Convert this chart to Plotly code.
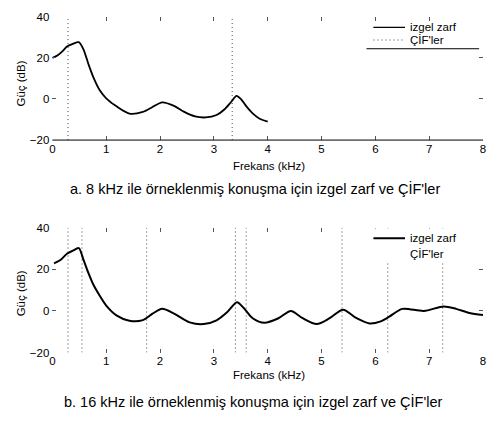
import plotly.graph_objects as go

# ---- data ----
freq_a = [0.0, 0.1, 0.2, 0.27, 0.38, 0.49, 0.58, 0.67, 0.76, 0.88, 1.0, 1.19, 1.43, 1.68, 1.86, 2.04, 2.26,
          2.45, 2.65, 2.85, 3.05, 3.2, 3.32, 3.42, 3.5, 3.6, 3.72, 3.85, 4.0]
env_a = [20.0, 21.3, 23.5, 25.5, 26.8, 27.6, 23.9, 16.9, 10.6, 4.2, 0.3, -3.6, -7.1, -6.3, -3.9, -1.7, -3.4,
         -6.3, -8.5, -9.0, -7.8, -5.0, -1.5, 1.5, 0.0, -3.5, -7.0, -9.6, -11.0]
cif_a = [0.29, 3.34]

freq_b = [0.03, 0.15, 0.27, 0.38, 0.49, 0.58, 0.67, 0.76, 0.88, 1.0, 1.19, 1.43, 1.68, 1.86, 2.04, 2.26,
          2.55, 2.81, 3.05, 3.25, 3.43, 3.55, 3.72, 3.94, 4.2, 4.43, 4.65, 4.91, 5.15, 5.40, 5.65, 5.89,
          6.1, 6.25, 6.5, 6.9, 7.27, 7.5, 7.75, 8.0]
env_b = [22.9, 24.5, 27.5, 29.0, 30.2, 24.4, 18.2, 12.7, 7.3, 2.6, -2.1, -4.7, -4.4, -1.3, 1.0, -1.3,
         -5.5, -6.3, -4.5, -0.5, 4.2, 1.5, -3.5, -5.7, -3.5, 0.0, -3.5, -6.3, -3.5, 0.6, -3.5, -6.0,
         -5.0, -2.9, 1.0, 0.0, 2.2, 1.0, -1.0, -2.0]
cif_b = [0.29, 0.55, 1.75, 3.40, 3.60, 5.38, 6.23, 7.25]

x_ticks = [0, 1, 2, 3, 4, 5, 6, 7, 8]
y_ticks = [-20, 0, 20, 40]
y_range = [-20, 40]
x_range = [0, 8]

legend_env = "izgel zarf"
legend_cif = "ÇİF'ler"
x_title = "Frekans (kHz)"
y_title = "Güç (dB)"
caption_a = "a. 8 kHz ile örneklenmiş konuşma için izgel zarf ve ÇİF'ler"
caption_b = "b. 16 kHz ile örneklenmiş konuşma için izgel zarf ve ÇİF'ler"

FONT = "Liberation Sans, Arial, sans-serif"
W, H = 490, 421
DOT = "1px,3px"


def vlines(freqs):
    xs, ys = [], []
    for f in freqs:
        xs += [f, f, None]
        ys += [y_range[0], y_range[1], None]
    return xs, ys


fig = go.Figure()

xa, ya = vlines(cif_a)
fig.add_trace(go.Scatter(x=xa, y=ya, mode="lines", name=legend_cif, showlegend=False,
                         line=dict(color="#444", width=1, dash=DOT), xaxis="x", yaxis="y"))
fig.add_trace(go.Scatter(x=freq_a, y=env_a, mode="lines", name=legend_env, showlegend=False,
                         line=dict(color="black", width=1.8, shape="spline", smoothing=0.8),
                         xaxis="x", yaxis="y"))

xb, yb = vlines(cif_b)
fig.add_trace(go.Scatter(x=xb, y=yb, mode="lines", name=legend_cif, showlegend=False,
                         line=dict(color="#444", width=1, dash=DOT), xaxis="x2", yaxis="y2"))
fig.add_trace(go.Scatter(x=freq_b, y=env_b, mode="lines", name=legend_env, showlegend=False,
                         line=dict(color="black", width=2, shape="spline", smoothing=0.8),
                         xaxis="x2", yaxis="y2"))

xdom = [50 / W, 486 / W]
ydom_a = [1 - 138 / H, 1 - 11 / H]
ydom_b = [1 - 356.7 / H, 1 - 228.3 / H]

axis_common = dict(showgrid=False, zeroline=False, ticks="inside", ticklen=4,
                   tickcolor="#555", tickwidth=1, mirror="ticks", showline=False,
                   tickfont=dict(size=11.5, color="black", family=FONT))


def px_x(p):
    return p / W


def px_y(p):
    return 1 - p / H


shapes = [
    dict(type="line", xref="x domain", yref="y domain", x0=0, x1=1, y0=0, y1=0,
         line=dict(color="black", width=1)),
    # top legend: bottom edge of its box + samples
    dict(type="line", xref="paper", yref="paper", x0=px_x(368), x1=px_x(482),
         y0=px_y(44), y1=px_y(44), line=dict(color="black", width=1)),
    dict(type="line", xref="paper", yref="paper", x0=px_x(375), x1=px_x(407),
         y0=px_y(22), y1=px_y(22), line=dict(color="black", width=1.2)),
    dict(type="line", xref="paper", yref="paper", x0=px_x(375), x1=px_x(407),
         y0=px_y(35), y1=px_y(35), line=dict(color="#444", width=1, dash=DOT)),
    # bottom legend: opaque background + sample
    dict(type="rect", xref="paper", yref="paper", x0=px_x(368), x1=px_x(482),
         y0=px_y(263), y1=px_y(229), fillcolor="white", line=dict(width=0)),
    dict(type="line", xref="paper", yref="paper", x0=px_x(375), x1=px_x(407),
         y0=px_y(239), y1=px_y(239), line=dict(color="black", width=2)),
]

ann = dict(xref="paper", yref="paper", showarrow=False, font=dict(size=11.5, family=FONT, color="black"))
cap = dict(xref="paper", yref="paper", showarrow=False, font=dict(size=14.5, family=FONT, color="black"))
annotations = [
    dict(text=legend_env, x=px_x(410), y=px_y(21.5), xanchor="left", yanchor="middle", **ann),
    dict(text=legend_cif, x=px_x(410), y=px_y(35), xanchor="left", yanchor="middle", **ann),
    dict(text=legend_env, x=px_x(410), y=px_y(239), xanchor="left", yanchor="middle", **ann),
    dict(text=legend_cif, x=px_x(410), y=px_y(255), xanchor="left", yanchor="middle", **ann),
    dict(text=x_title, x=px_x(269), y=px_y(165), xanchor="center", yanchor="middle", **ann),
    dict(text=x_title, x=px_x(269), y=px_y(380), xanchor="center", yanchor="middle", **ann),
    dict(text=y_title, x=px_x(18), y=px_y(80), xanchor="center", yanchor="middle", textangle=-90, **ann),
    dict(text=y_title, x=px_x(18), y=px_y(296), xanchor="center", yanchor="middle", textangle=-90, **ann),
    dict(text=caption_a, x=px_x(255), y=px_y(188), xanchor="center", yanchor="middle", **cap),
    dict(text=caption_b, x=px_x(253), y=px_y(407), xanchor="center", yanchor="middle", **cap),
]

fig.update_layout(
    width=W, height=H,
    margin=dict(l=0, r=0, t=0, b=0),
    paper_bgcolor="white", plot_bgcolor="white",
    font=dict(family=FONT, size=11.5, color="black"),
    showlegend=False,
    xaxis=dict(domain=xdom, range=x_range, tickvals=x_ticks, anchor="y", **axis_common),
    yaxis=dict(domain=ydom_a, range=y_range, tickvals=y_ticks, anchor="x", ticklabelstandoff=2, **axis_common),
    xaxis2=dict(domain=xdom, range=x_range, tickvals=x_ticks, anchor="y2", **axis_common),
    yaxis2=dict(domain=ydom_b, range=y_range, tickvals=y_ticks, anchor="x2", ticklabelstandoff=2, **axis_common),
    shapes=shapes,
    annotations=annotations,
)

fig.write_html("out.html", config={"displayModeBar": False},
               post_script="document.body.style.margin='0';document.body.style.overflow='hidden';")
